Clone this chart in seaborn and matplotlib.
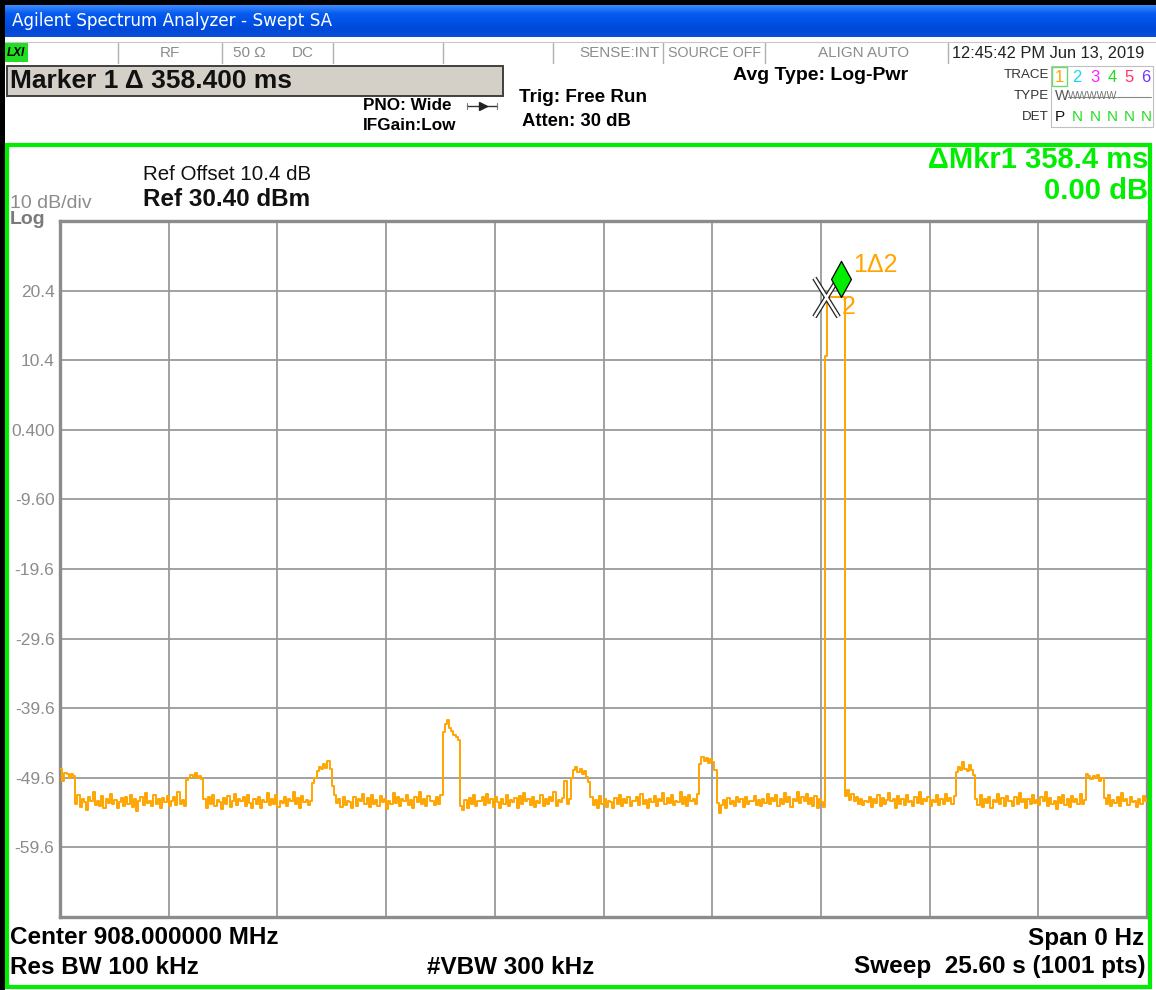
import numpy as np
import pandas as pd
import matplotlib
matplotlib.use("Agg")
import matplotlib.pyplot as plt
from matplotlib.patches import Rectangle
from matplotlib.lines import Line2D
from matplotlib.path import Path
from matplotlib.markers import MarkerStyle
from matplotlib.colors import LinearSegmentedColormap
import seaborn as sns

# ---------------------------------------------------------------- settings
W, H = 1156, 990
SWEEP_S = 25.6          # zero-span sweep time
REF_DB = 30.4           # reference level (top of graticule)
DB_PER_DIV = 10.0

# ---------------------------------------------------------------- trace (dB)
# sweep is stored in consecutive segments: bursts, quiet noise floor, the main pulse
burst_1 = [-48.3, -50.0, -48.9, -49.0, -49.6, -49.1, -49.3]
noise_a = [-53.4, -52.1, -53.8, -52.6, -53.1, -54.2, -52.4, -53.0, -51.7, -53.5,
           -52.9, -53.6, -52.2, -53.9, -52.7, -53.2, -51.9, -53.4, -52.8, -54.0,
           -53.1, -52.5, -53.7, -52.3, -53.3, -52.0, -53.8, -52.6, -54.3, -53.0,
           -52.4, -53.5, -51.8, -53.2, -52.9, -53.6, -52.1, -53.4, -52.7, -53.9,
           -52.5, -53.1, -52.2, -53.7, -53.0, -52.4, -53.5, -51.6, -53.3, -52.8,
           -53.6]
burst_2 = [-49.9, -49.6, -49.2, -49.5, -48.9, -49.6, -49.3, -49.8]
noise_b = [-52.7, -53.9, -52.3, -53.4, -52.0, -53.6, -52.8, -53.1, -54.1, -52.5,
           -53.3, -52.2, -53.8, -52.9, -51.9, -53.5, -52.6, -53.0, -52.4, -53.7,
           -52.1, -53.2, -54.0, -52.7, -53.4, -52.3, -53.9, -52.8, -53.1, -51.8,
           -53.5, -52.6, -53.3, -52.0, -53.8, -52.9, -53.2, -52.4, -53.6, -52.7,
           -53.0, -51.7, -53.4, -52.5, -53.9, -52.2, -53.1, -52.8, -53.5, -52.9]
burst_3 = [-50.3, -49.6, -48.6, -48.0, -48.3, -47.6, -48.2, -47.2, -48.4]
noise_c = [-50.8, -52.0, -53.2, -52.6, -53.8, -52.4, -53.5, -52.9, -53.1, -54.0,
           -52.3, -53.6, -52.7, -53.0, -51.9, -53.4, -52.5, -53.8, -52.1, -53.3,
           -52.8, -53.7, -52.2, -53.1, -52.6, -54.1, -52.9, -53.4, -51.8, -53.2,
           -52.4, -53.6, -52.7, -53.0, -52.0, -53.5, -52.8, -53.9, -52.3, -53.1,
           -51.7, -53.4, -52.6, -53.7, -52.2, -53.0, -52.9, -53.5, -52.4, -53.3,
           -52.1]
burst_4 = [-43.0, -41.8, -41.3, -42.4, -42.9, -43.4, -43.8, -44.1]
noise_d = [-53.6, -54.2, -52.8, -53.9, -52.5, -53.3, -52.1, -53.7, -52.9, -53.0,
           -52.4, -53.5, -51.9, -53.2, -52.7, -53.8, -52.3, -53.1, -54.0, -52.6,
           -53.4, -52.0, -53.6, -52.8, -53.1, -52.5, -53.9, -52.2, -53.3, -51.8,
           -53.0, -52.7, -53.5, -52.4, -53.8, -52.9, -53.2, -52.1, -53.6, -52.6,
           -53.4, -52.3, -53.0, -51.6, -53.7, -52.8, -53.1, -52.5, -50.0, -53.3,
           -52.7]
burst_5 = [-49.6, -48.5, -48.0, -48.7, -48.3, -49.1, -48.6, -49.5, -50.2]
noise_e = [-52.4, -53.5, -52.8, -53.9, -52.2, -53.3, -52.6, -53.8, -52.9, -53.1,
           -54.0, -52.5, -53.4, -52.1, -53.6, -52.7, -53.2, -52.3, -53.7, -52.9,
           -53.0, -52.4, -53.5, -51.9, -53.3, -52.8, -53.9, -52.6, -53.1, -52.2,
           -53.6, -52.7, -53.0, -51.8, -53.4, -52.5, -53.2, -52.0, -53.5, -52.9,
           -53.1, -51.7, -53.3, -52.4, -53.7, -52.1, -53.0, -52.6, -53.4, -51.9]
burst_6 = [-47.6, -46.6, -47.2, -46.7, -47.5, -46.9, -47.4, -48.5]
noise_f = [-53.2, -54.6, -53.5, -52.8, -53.9, -52.5, -53.3, -52.9, -53.6, -52.4,
           -53.1, -52.7, -53.8, -52.3, -53.4, -52.9, -53.0, -52.2, -53.5, -52.8,
           -53.7, -52.6, -53.2, -51.9, -53.4, -52.5, -53.0, -52.1, -53.6, -52.7,
           -53.3, -51.8, -53.1, -52.4, -53.8, -52.6, -52.9, -51.7, -53.2, -52.3,
           -53.0, -51.9, -53.4, -52.5, -53.6, -52.2, -53.9, -52.7, -53.1, -53.8]
main_pulse = [11.0, 19.5, 19.5, 19.5, 19.5, 19.5, 19.5, 19.5, 19.5]
noise_g = [-52.2, -51.4, -52.8, -51.9, -53.0, -52.4, -53.3, -52.6, -53.5, -52.9,
           -53.1, -52.3, -53.8, -52.7, -53.2, -52.0, -53.6, -52.5, -53.4, -52.8,
           -51.8, -53.0, -52.6, -53.9, -52.2, -53.3, -52.7, -53.5, -52.1, -53.1,
           -52.9, -53.7, -52.4, -53.2, -51.7, -53.4, -52.6, -53.0, -52.3, -53.6,
           -52.8, -53.1, -52.0, -53.5, -52.7, -53.3, -51.9, -53.0, -52.5, -53.4,
           -52.2]
burst_7 = [-48.7, -48.0, -48.5, -47.3, -48.3, -48.6, -47.8, -48.5, -49.2]
noise_h = [-52.6, -53.5, -52.0, -53.8, -52.7, -53.2, -52.3, -53.9, -52.8, -53.1,
           -51.9, -53.4, -52.5, -53.7, -52.2, -53.0, -52.9, -53.6, -52.4, -53.3,
           -51.8, -53.1, -52.6, -54.0, -52.7, -53.4, -52.1, -53.2, -52.8, -53.5,
           -52.3, -53.0, -51.7, -53.6, -52.5, -53.3, -52.9, -54.1, -52.4, -53.2,
           -52.0, -53.5, -52.7, -53.8, -52.2, -53.1, -52.6, -53.4, -51.9, -53.3,
           -52.8]
burst_8 = [-49.0, -49.4, -49.8, -49.3, -49.7, -49.2, -50.1, -49.6]
noise_i = [-52.5, -53.4, -52.1, -53.7, -52.8, -53.2, -52.4, -53.6, -51.8, -53.0,
           -52.7, -53.5, -52.3, -53.1, -52.9, -53.8, -52.6, -53.3, -52.2, -53.0,
           -52.6]

segments = [burst_1, noise_a, burst_2, noise_b, burst_3, noise_c, burst_4, noise_d,
            burst_5, noise_e, burst_6, noise_f, main_pulse, noise_g, burst_7,
            noise_h, burst_8, noise_i]
level_db = np.concatenate([np.asarray(s, float) for s in segments])
time_s = np.linspace(0.0, SWEEP_S, len(level_db))
trace = pd.DataFrame({"time_s": time_s, "level_db": level_db})

# markers: reference marker 2 and delta marker 1
marker2_time = 18.04
marker_delta_s = 0.3584
marker1_time = marker2_time + marker_delta_s
marker_level = 19.5

y_tick_values = [20.4, 10.4, 0.4, -9.6, -19.6, -29.6, -39.6, -49.6, -59.6]
y_tick_labels = ["20.4", "10.4", "0.400", "-9.60", "-19.6", "-29.6", "-39.6", "-49.6", "-59.6"]

# ---------------------------------------------------------------- styling
sns.set_style("white")
plt.rcParams["font.family"] = ["Liberation Sans", "DejaVu Sans"]

TRACE_ORANGE = "#ffa500"
SCREEN_GREEN = "#00ee00"
GRID_GRAY = "#9a9a9a"
LABEL_GRAY = "#8c8c8c"

fig = plt.figure(figsize=(W / 100, H / 100), dpi=100)
fig.patch.set_facecolor("white")


def fx(x):
    return x / W


def fy(y):
    return 1 - y / H


def put(x, y, s, size, color="black", weight="normal", ha="left", va="center",
        family=None, style="normal"):
    kw = {}
    if family is not None:
        kw["family"] = family
    fig.text(fx(x), fy(y), s, fontsize=size, color=color, fontweight=weight,
             ha=ha, va=va, style=style, **kw)


def box(x0, y0, x1, y1, fc="none", ec="none", lw=0.0, z=1):
    fig.add_artist(Rectangle((fx(x0), fy(y1)), (x1 - x0) / W, (y1 - y0) / H,
                             transform=fig.transFigure, facecolor=fc,
                             edgecolor=ec, linewidth=lw, zorder=z))


def hline(x0, x1, y, color, lw, z=2):
    fig.add_artist(Line2D([fx(x0), fx(x1)], [fy(y), fy(y)], color=color,
                          linewidth=lw, transform=fig.transFigure, zorder=z))


def vline(x, y0, y1, color, lw, z=2):
    fig.add_artist(Line2D([fx(x), fx(x)], [fy(y0), fy(y1)], color=color,
                          linewidth=lw, transform=fig.transFigure, zorder=z))


# ---------------------------------------------------------------- window chrome
# title bar gradient
title_ax = fig.add_axes([0, fy(37), 1, 32 / H])
grad = np.linspace(0, 1, 64).reshape(-1, 1)
bar_cmap = LinearSegmentedColormap.from_list(
    "bar", ["#3c8cff", "#0a5cf0", "#0052e6", "#0048d8", "#0a4fd8"])
title_ax.imshow(grad, aspect="auto", cmap=bar_cmap, extent=[0, 1, 0, 1], origin="upper")
title_ax.set_axis_off()
put(12, 21, "Agilent Spectrum Analyzer - Swept SA", 12.1, color="white",
    family=["DejaVu Sans"])

box(0, 0, W, 5, fc="black", z=3)
box(0, 0, 5, H, fc="black", z=3)

# status row
for x in [118, 222, 333, 443, 553, 663, 765, 948]:
    vline(x, 43, 63, "#b0b0b0", 1.0)
hline(5, W, 42, "#c8c8c8", 0.8)
box(5, 43, 28, 62, fc="#22dd22", z=2)
put(7, 53, "LXI", 8.5, weight="bold", style="italic")
put(170, 53, "RF", 11, color=LABEL_GRAY, ha="center")
put(233, 53, "50 Ω", 11, color=LABEL_GRAY)
put(292, 53, "DC", 11, color=LABEL_GRAY)
put(660, 53, "SENSE:INT", 11.0, color=LABEL_GRAY, ha="right")
put(668, 53, "SOURCE OFF", 10.3, color=LABEL_GRAY)
put(864, 53, "ALIGN AUTO", 11.0, color=LABEL_GRAY, ha="center")
put(952, 53, "12:45:42 PM Jun 13, 2019", 11.8, color="#222222")

# marker readout box
box(7, 66, 503, 96, fc="#d4d0c8", ec="#404040", lw=1.4, z=2)
put(10, 81, "Marker 1 Δ 358.400 ms", 19.0, weight="bold", color="#111111")

put(363, 106, "PNO: Wide", 12.3, weight="bold")
put(363, 125, "IFGain:Low", 12.3, weight="bold")
hline(467, 497, 106, "#333333", 1.0, z=3)
fig.add_artist(Line2D([fx(483)], [fy(106)], marker=">", markersize=6,
                      color="#222222", transform=fig.transFigure, zorder=3))
vline(467, 103, 109, "#777777", 0.8, z=3)
vline(497, 103, 109, "#777777", 0.8, z=3)

put(519, 98, "Trig: Free Run", 13.6, weight="bold")
put(522, 122, "Atten: 30 dB", 13.3, weight="bold")
put(733, 76, "Avg Type: Log-Pwr", 14.0, weight="bold")

# trace status table
box(1051, 66, 1153, 127, ec="#c0c0c0", lw=0.8, z=2)
box(1052, 67, 1067, 86, ec="#66dd66", lw=1.0, z=2)
put(1049, 75, "TRACE", 9.6, color="#333333", ha="right")
put(1049, 96, "TYPE", 9.6, color="#333333", ha="right")
put(1049, 117, "DET", 9.6, color="#333333", ha="right")
trace_colors = [TRACE_ORANGE, "#18d8f0", "#ff22ff", "#22dd22", "#ff3366", "#7733ff"]
trace_x = [1059, 1077, 1095, 1112, 1129, 1146]
for i, (x, c) in enumerate(zip(trace_x, trace_colors)):
    put(x, 77, str(i + 1), 12, color=c, ha="center")
put(1055, 96, "W", 10.5, color="#555555")
put(1068, 96, "WWWWW", 7.6, color="#777777")
hline(1068, 1151, 97, "#888888", 0.8, z=3)
put(1055, 117, "P", 11, color="#111111")
for x in trace_x[1:]:
    put(x, 117, "N", 11, color="#22dd22", ha="center")

# green display frame
box(7, 145, 1150, 987, ec="#00ee00", lw=3.0, z=4)

put(143, 175, "Ref Offset 10.4 dB", 14.8, color="#111111")
put(143, 199, "Ref 30.40 dBm", 17.5, weight="bold", color="#111111")
put(10, 203, "10 dB/div", 14.0, color=LABEL_GRAY)
put(10, 220, "Log", 14.0, color="#7a7a7a", weight="bold")
put(1148, 160, "ΔMkr1 358.4 ms", 21.0, weight="bold", color=SCREEN_GREEN, ha="right")
put(1148, 191, "0.00 dB", 21.0, weight="bold", color=SCREEN_GREEN, ha="right")

put(10, 938, "Center 908.000000 MHz", 17.5, weight="bold")
put(10, 967, "Res BW 100 kHz", 17.5, weight="bold")
put(427, 967, "#VBW 300 kHz", 17.5, weight="bold")
put(1144, 938, "Span 0 Hz", 17.5, weight="bold", ha="right")
put(1146, 967, "Sweep  25.60 s (1001 pts)", 17.5, weight="bold", ha="right")

# ---------------------------------------------------------------- graticule
ax = fig.add_axes([fx(60), fy(917), (1147 - 60) / W, (917 - 221) / H])
ax.set_facecolor("white")
sns.lineplot(data=trace, x="time_s", y="level_db", ax=ax, color=TRACE_ORANGE,
             linewidth=1.4, drawstyle="steps-post", estimator=None, sort=False,
             zorder=3)
ax.set_xlim(0, SWEEP_S)
ax.set_ylim(REF_DB - 10 * DB_PER_DIV, REF_DB)
ax.set_xticks(np.arange(1, 10) * SWEEP_S / 10)
ax.set_xticklabels([])
ax.set_yticks(y_tick_values)
ax.set_yticklabels(y_tick_labels)
ax.tick_params(axis="both", length=0, pad=4)
ax.tick_params(axis="y", labelsize=12.5, labelcolor=LABEL_GRAY)
ax.grid(True, color=GRID_GRAY, linewidth=1.3, zorder=1)
ax.set_axisbelow(True)
ax.set_xlabel("")
ax.set_ylabel("")
for side in ["left", "right", "top", "bottom"]:
    ax.spines[side].set_visible(True)
    ax.spines[side].set_color("#8c8c8c")
    ax.spines[side].set_linewidth(2.4)

# delta marker 1: green diamond standing on its point
diamond = MarkerStyle(Path([(0, 0), (0.55, 1), (0, 2), (-0.55, 1), (0, 0)],
                           [Path.MOVETO, Path.LINETO, Path.LINETO, Path.LINETO,
                            Path.CLOSEPOLY]))
ax.plot([marker1_time], [marker_level], marker=diamond, markersize=52,
        markerfacecolor="#00ee00", markeredgecolor="black", markeredgewidth=0.9,
        linestyle="none", zorder=6)

# reference marker 2: outlined X
cross = MarkerStyle(Path([(-0.62, -1), (0.62, 1), (-0.62, 1), (0.62, -1)],
                         [Path.MOVETO, Path.LINETO, Path.MOVETO, Path.LINETO]))
ax.plot([marker2_time], [marker_level], marker=cross, markersize=28,
        markerfacecolor="none", markeredgecolor="#222222", markeredgewidth=3.6,
        linestyle="none", zorder=5)
ax.plot([marker2_time], [marker_level], marker=cross, markersize=28,
        markerfacecolor="none", markeredgecolor="white", markeredgewidth=1.8,
        linestyle="none", zorder=5)

ax.annotate("1Δ2", (marker1_time, marker_level), xytext=(8.5, 23),
            textcoords="offset points", color=TRACE_ORANGE, fontsize=18,
            ha="left", va="center", zorder=7)
ax.annotate("2", (marker2_time, marker_level), xytext=(11, -7),
            textcoords="offset points", color=TRACE_ORANGE, fontsize=18,
            ha="left", va="center", zorder=7)

fig.savefig("out.png", dpi=100, facecolor="white")
